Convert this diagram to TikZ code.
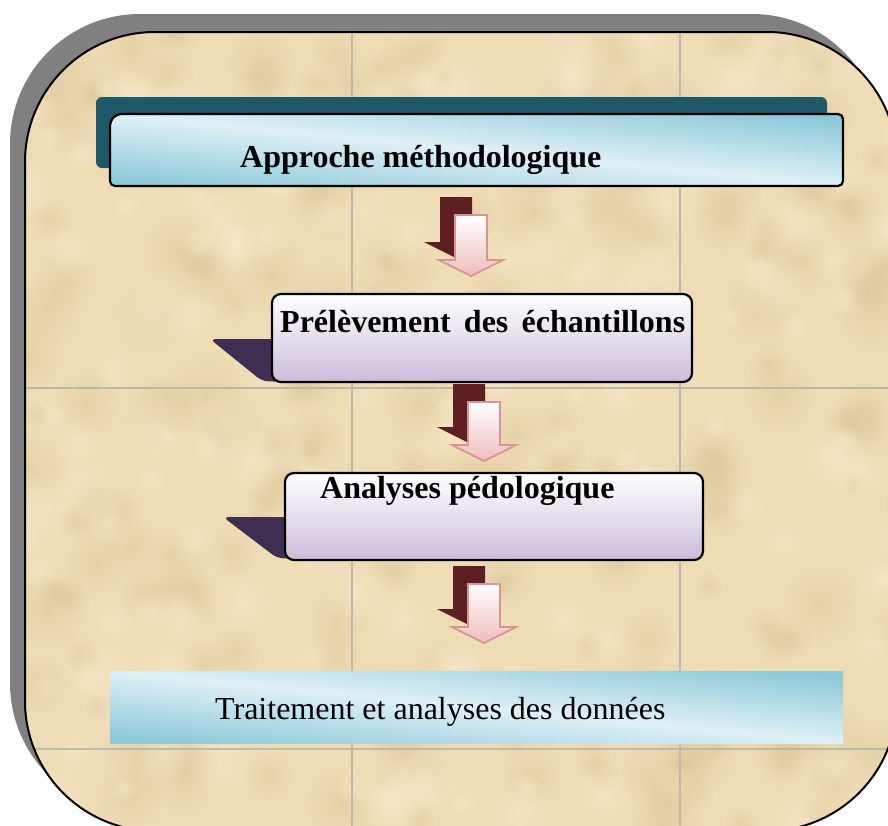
\documentclass[tikz,border=0pt]{standalone}
\usepackage{fontspec}
\setmainfont{Liberation Serif}
\usetikzlibrary{fadings}
\tikzfading[name=softblob, inner color=transparent!0, outer color=transparent!100]
\definecolor{parch}{HTML}{EEDCB5}
\definecolor{parchdark}{HTML}{D6BE8E}
\definecolor{parchlight}{HTML}{F9ECCF}
\definecolor{tileline}{HTML}{BDB9A8}
\definecolor{frameshadow}{HTML}{808080}
\definecolor{tealshadow}{HTML}{1F5868}
\definecolor{bluelight}{HTML}{DFF0F5}
\definecolor{bluedark}{HTML}{8DC9DA}
\definecolor{lavender}{HTML}{CBBDD9}
\definecolor{purpleshadow}{HTML}{3E2F52}
\definecolor{maroonsh}{HTML}{5F1F22}
\definecolor{pinkedge}{HTML}{D99595}
\definecolor{pinkfill}{HTML}{EFBCBC}
\newcommand\blockarr[5][]{%
  \path[#1] ({#2-16},#3) -- ({#2+16},#3) -- ({#2+16},#4) -- ({#2+32},#4) -- (#2,#5) -- ({#2-32},#4) -- ({#2-16},#4) -- cycle;}
\tikzset{
  arrowfront/.style={draw=pinkedge, line width=1.8pt, top color=white, bottom color=pinkfill, line join=miter},
  arrowshadow/.style={fill=maroonsh},
  stepbox/.style={draw=black, line width=2.2pt, rounded corners=9pt, top color=white, bottom color=lavender},
  boxtext/.style={font=\fontsize{32}{38}\selectfont\bfseries, anchor=base west, inner sep=0pt},
  plaintext/.style={font=\fontsize{32}{38}\selectfont, anchor=base west, inner sep=0pt},
  diagblue/.style={top color=bluedark, bottom color=bluedark, middle color=bluelight, shading angle=-5.61},
  blotch/.style={path fading=softblob},
}
\begin{document}
\begin{tikzpicture}[x=1pt,y=-1pt]
\useasboundingbox (0,0) rectangle (888,825);
\fill[white] (0,0) rectangle (888,825);
% frame
\fill[frameshadow, rounded corners=130pt] (10,14) rectangle (882,813);
\fill[parch, rounded corners=130pt] (25,32) rectangle (897,831);
\begin{scope}
  \clip[rounded corners=130pt] (25,32) rectangle (897,831);
  \pgfmathsetseed{4242}
  \foreach \i in {1,...,220} {
    \pgfmathsetmacro\bx{25+880*rnd}
    \pgfmathsetmacro\by{32+800*rnd}
    \pgfmathsetmacro\br{12+30*rnd}
    \fill[parchdark, opacity=0.35, blotch] (\bx,\by) circle (\br pt);
  }
  \foreach \i in {1,...,160} {
    \pgfmathsetmacro\bx{25+880*rnd}
    \pgfmathsetmacro\by{32+800*rnd}
    \pgfmathsetmacro\br{12+30*rnd}
    \fill[parchlight, opacity=0.45, blotch] (\bx,\by) circle (\br pt);
  }
  \draw[tileline, line width=1.4pt] (352,0) -- (352,840) (680,0) -- (680,840)
     (0,388) -- (910,388) (0,749) -- (910,749);
\end{scope}
\draw[black, line width=2pt, rounded corners=130pt] (25,32) rectangle (897,831);

% title box
\fill[tealshadow, rounded corners=6pt] (96,97) rectangle (827,168);
\shade[diagblue, rounded corners=5pt] (110,186) -- (110,121) -- (117,114) -- (843,114) -- (843,186) -- cycle;
\draw[black, line width=2.2pt, rounded corners=5pt] (110,186) -- (110,121) -- (117,114) -- (843,114) -- (843,186) -- cycle;
\node[boxtext] (title) at (240,167) {Approche méthodologique};

% arrow 1
\blockarr[arrowshadow]{456}{197}{242}{258}
\blockarr[arrowfront]{471}{215}{260}{276}

% box 2
\fill[purpleshadow, rounded corners=6pt] (210,339) -- (285,339) -- (285,382) -- (262,381) -- cycle;
\path[stepbox] (272,294) rectangle (692,382);
\node[boxtext] (prel) at (280,332) {\makebox[405pt][s]{Prélèvement des échantillons}};

% arrow 2
\blockarr[arrowshadow]{469}{384}{427}{443}
\blockarr[arrowfront]{484}{402}{445}{461}

% box 3
\fill[purpleshadow, rounded corners=6pt] (223,517) -- (297,517) -- (297,559) -- (277,558) -- cycle;
\path[stepbox] (285,473) rectangle (703,560);
\node[boxtext] (anal) at (320,498) {Analyses pédologique};

% arrow 3
\blockarr[arrowshadow]{469}{566}{609}{625}
\blockarr[arrowfront]{484}{584}{627}{643}

% box 4
\shade[diagblue] (110,671) rectangle (843,743);
\node[plaintext] (trait) at (215,719) {Traitement et analyses des données};
\end{tikzpicture}
\end{document}
